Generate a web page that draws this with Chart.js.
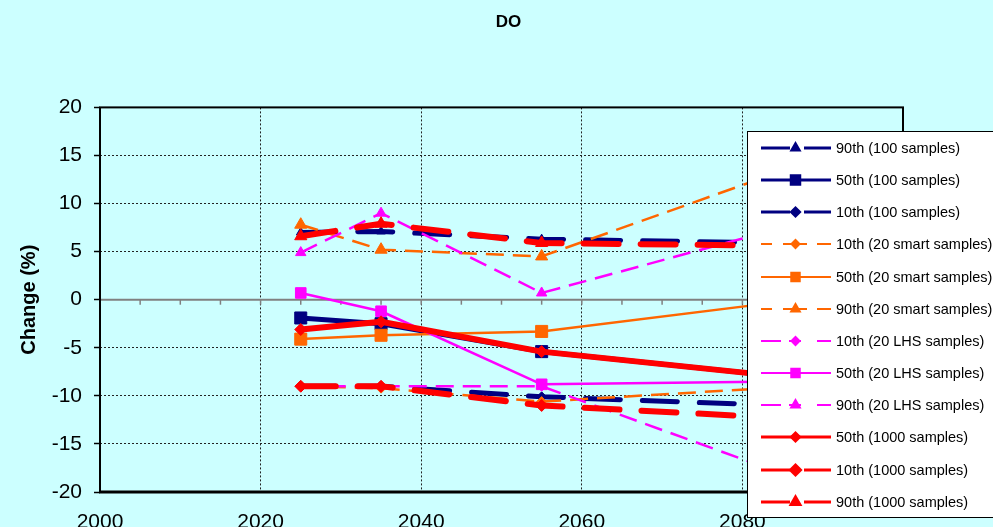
<!DOCTYPE html>
<html>
<head>
<meta charset="utf-8">
<title>DO</title>
<script src="https://cdn.jsdelivr.net/npm/chart.js@4.4.1/dist/chart.umd.min.js"></script>
<style>
  html, body { margin: 0; padding: 0; background: #ccffff; }
  #wrap { width: 993px; height: 527px; position: relative; }
</style>
</head>
<body>
<div id="wrap"><canvas id="do-chart"></canvas></div>
<script>
// years of the four time slices
const years = [2025, 2035, 2055, 2085];

const seriesNames = [
    '90th (100 samples)', '50th (100 samples)', '10th (100 samples)',
    '10th (20 smart samples)', '50th (20 smart samples)', '90th (20 smart samples)',
    '10th (20 LHS samples)', '50th (20 LHS samples)', '90th (20 LHS samples)',
    '50th (1000 samples)', '10th (1000 samples)', '90th (1000 samples)'
];

const p90_100 = [7.0, 7.1, 6.3, 5.9];
const p50_100 = [-1.9, -2.5, -5.4, -8.0];
const p10_100 = [-9.0, -9.0, -10.1, -11.0];
const p10_smart = [-9.0, -9.2, -10.6, -9.1];
const p50_smart = [-4.1, -3.7, -3.3, -0.2];
const p90_smart = [7.8, 5.2, 4.5, 13.4];
const p10_lhs = [-9.0, -9.0, -9.0, -18.1];
const p50_lhs = [0.7, -1.2, -8.8, -8.5];
const p90_lhs = [4.9, 9.0, 0.7, 7.5];
const p50_1000 = [-3.1, -2.3, -5.4, -8.0];
const p10_1000 = [-9.0, -9.0, -11.0, -12.3];
const p90_1000 = [6.6, 7.9, 5.9, 5.6];

const seriesValues = [p90_100, p50_100, p10_100, p10_smart, p50_smart, p90_smart,
    p10_lhs, p50_lhs, p90_lhs, p50_1000, p10_1000, p90_1000];

const xTickLabels = ['2000', '2020', '2040', '2060', '2080'];

const NAVY = '#000080', ORANGE = '#ff6600', MAGENTA = '#ff00ff', RED = '#ff0000';

// look of each series, same order as above
const styles = [
    { c: NAVY, w: 5, dash: [35, 22], cap: 'round', pt: 'triangle', r: 5, lw: 3, ld: [29, 14], lr: 4 },
    { c: NAVY, w: 5, dash: [], cap: 'round', pt: 'rect', r: 8.5, lw: 3, ld: [], lr: 6 },
    { c: NAVY, w: 5, dash: [35, 22], cap: 'round', pt: 'rectRot', r: 5, lw: 3, ld: [29, 14], lr: 4 },
    { c: ORANGE, w: 2.5, dash: [18, 9], cap: 'butt', pt: 'rectRot', r: 5, lw: 2, ld: [11, 11, 24, 10, 14, 0], lr: 4 },
    { c: ORANGE, w: 2.5, dash: [], cap: 'butt', pt: 'rect', r: 8.5, lw: 2, ld: [], lr: 6 },
    { c: ORANGE, w: 2.5, dash: [18, 9], cap: 'butt', pt: 'triangle', r: 7, lw: 2, ld: [11, 11, 24, 10, 14, 0], lr: 5 },
    { c: MAGENTA, w: 2.5, dash: [18, 9], cap: 'butt', pt: 'rectRot', r: 5, lw: 2, ld: [20, 8, 12, 16, 14, 0], lr: 4 },
    { c: MAGENTA, w: 2.5, dash: [], cap: 'butt', pt: 'rect', r: 7.5, lw: 2, ld: [], lr: 6 },
    { c: MAGENTA, w: 2.5, dash: [18, 9], cap: 'butt', pt: 'triangle', r: 6, lw: 2, ld: [20, 8, 12, 16, 14, 0], lr: 5 },
    { c: RED, w: 6, dash: [], cap: 'round', pt: 'rectRot', r: 6, lw: 3, ld: [], lr: 4 },
    { c: RED, w: 6, dash: [35, 22], cap: 'round', pt: 'rectRot', r: 6, lw: 3, ld: [29, 14], lr: 5 },
    { c: RED, w: 6, dash: [35, 22], cap: 'round', pt: 'triangle', r: 7, lw: 3, ld: [29, 14], lr: 5 }
];

Chart.defaults.font.family = '"Liberation Sans", Arial, sans-serif';
Chart.defaults.color = '#000';

const datasets = seriesValues.map((vals, i) => {
    const s = styles[i];
    return {
        label: seriesNames[i],
        data: vals.map((v, j) => ({ x: years[j], y: v })),
        borderColor: s.c,
        backgroundColor: s.c,
        borderWidth: s.w,
        borderDash: s.dash,
        borderCapStyle: s.cap,
        borderJoinStyle: 'round',
        pointStyle: s.pt,
        pointRadius: s.r,
        pointBackgroundColor: s.c,
        pointBorderColor: s.c,
        pointBorderWidth: 1,
        tension: 0,
        fill: false,
        order: seriesValues.length - i  // later series drawn on top
    };
});

// zero line with its little ticks, plus the plot frame
const axisDecor = {
    id: 'axisDecor',
    beforeDatasetsDraw(chart) {
        const { ctx, chartArea: a, scales: { x, y } } = chart;
        const y0 = y.getPixelForValue(0);
        ctx.save();
        ctx.strokeStyle = '#808080';
        ctx.lineWidth = 2;
        ctx.beginPath();
        ctx.moveTo(a.left, y0);
        ctx.lineTo(a.right, y0);
        ctx.stroke();
        ctx.lineWidth = 1.5;
        for (let yr = 2005; yr < 2100; yr += 5) {
            const px = x.getPixelForValue(yr);
            ctx.beginPath();
            ctx.moveTo(px, y0);
            ctx.lineTo(px, y0 + 5);
            ctx.stroke();
        }
        ctx.restore();
    },
    afterDatasetsDraw(chart) {
        const { ctx, chartArea: a } = chart;
        ctx.save();
        ctx.strokeStyle = '#000';
        ctx.lineWidth = 2;
        ctx.strokeRect(a.left, a.top, a.right - a.left, a.bottom - a.top);
        ctx.lineWidth = 3;
        ctx.beginPath();
        ctx.moveTo(a.left - 1, a.bottom);
        ctx.lineTo(a.right + 1, a.bottom);
        ctx.stroke();
        ctx.restore();
    }
};

// boxed legend sitting over the right of the plot
const boxLegend = {
    id: 'boxLegend',
    afterDraw(chart) {
        const ctx = chart.ctx;
        const bx = 747, by = 131, bw = 260, bh = 386;
        ctx.save();
        ctx.fillStyle = '#fff';
        ctx.fillRect(bx, by, bw, bh);
        ctx.strokeStyle = '#000';
        ctx.lineWidth = 1;
        ctx.strokeRect(bx + 0.5, by + 0.5, bw, bh);
        chart.data.datasets.forEach((ds, i) => {
            const s = styles[i];
            const cy = Math.round(148 + i * 32.15);
            ctx.strokeStyle = s.c;
            ctx.lineWidth = s.lw;
            ctx.setLineDash(s.ld);
            ctx.lineCap = 'butt';
            ctx.beginPath();
            ctx.moveTo(761, cy);
            ctx.lineTo(831, cy);
            ctx.stroke();
            ctx.setLineDash([]);
            ctx.fillStyle = s.c;
            Chart.helpers.drawPoint(ctx, { pointStyle: s.pt, radius: s.lr, rotation: 0, borderWidth: 1 }, 795.5, cy);
            ctx.fillStyle = '#000';
            ctx.font = '14.5px "Liberation Sans", Arial, sans-serif';
            ctx.textBaseline = 'middle';
            ctx.textAlign = 'left';
            ctx.fillText(ds.label, 836, cy + 1);
        });
        ctx.restore();
    }
};

new Chart(document.getElementById('do-chart'), {
    type: 'line',
    data: { datasets: datasets },
    options: {
        responsive: true,
        maintainAspectRatio: false,
        animation: false,
        devicePixelRatio: 1,
        layout: { padding: { left: 24, right: 0, top: 0, bottom: 0 } },
        plugins: {
            legend: { display: false },
            tooltip: { enabled: false },
            title: {
                display: true,
                text: 'DO',
                font: { size: 17, weight: 'bold' },
                padding: { top: 12, bottom: 75 }
            }
        },
        scales: {
            x: {
                type: 'linear',
                min: 2000,
                max: 2100,
                afterFit(s) { s.height = 35; },
                ticks: {
                    stepSize: 20,
                    autoSkip: false,
                    maxRotation: 0,
                    padding: 18,
                    font: { size: 21 },
                    callback: (v) => xTickLabels[(v - 2000) / 20] || ''
                },
                grid: { color: '#222', lineWidth: 1, drawTicks: false },
                border: { display: false, dash: [2, 2] }
            },
            y: {
                min: -20,
                max: 20,
                afterFit(s) { s.width = 76; },
                ticks: { stepSize: 5, padding: 12, font: { size: 21 } },
                grid: {
                    color: (c) => (c.tick && c.tick.value === 0) ? 'rgba(0,0,0,0)' : '#222',
                    lineWidth: 1,
                    drawTicks: true,
                    tickLength: 6,
                    tickColor: '#000',
                    tickWidth: 1.5
                },
                border: { display: false, dash: [2, 2] },
                title: {
                    display: true,
                    text: 'Change (%)',
                    font: { size: 20, weight: 'bold' },
                    padding: { top: -7, bottom: 0 }
                }
            },
            yR: {
                position: 'right',
                min: -20,
                max: 20,
                afterFit(s) { s.width = 90; },
                ticks: { display: false },
                grid: { display: false, drawTicks: false },
                border: { display: false }
            }
        }
    },
    plugins: [axisDecor, boxLegend]
});
</script>
</body>
</html>
